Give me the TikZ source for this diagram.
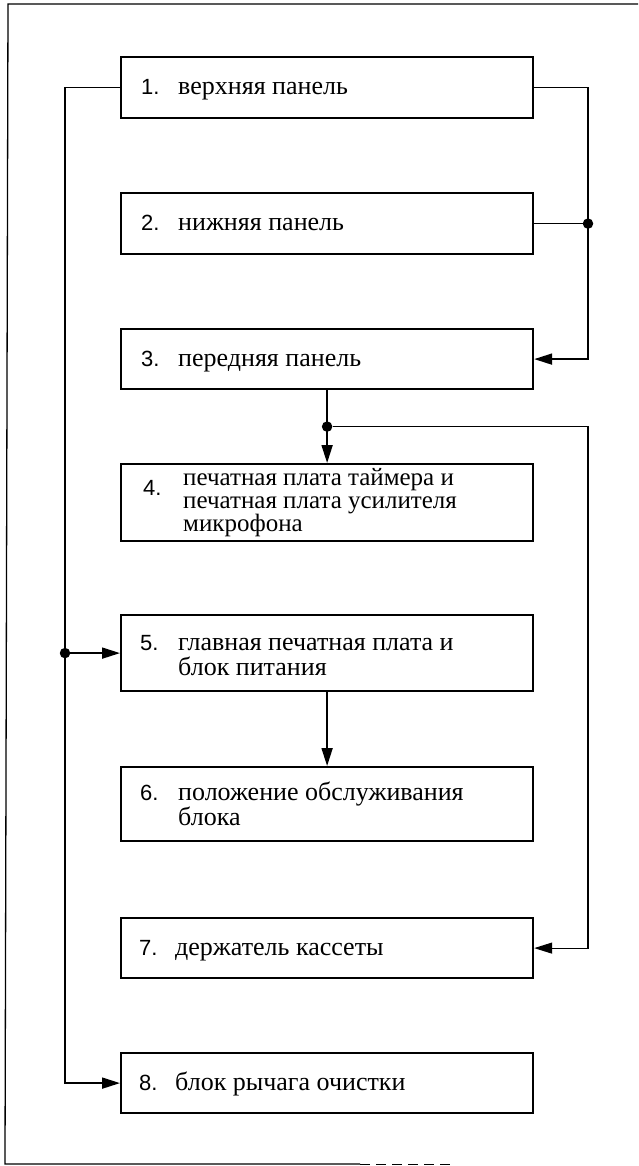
\documentclass[tikz,border=0pt]{standalone}
\usepackage{fontspec}
\newfontfamily\txtfont{Liberation Serif}
\newfontfamily\numfont{Liberation Sans}
\usetikzlibrary{arrows.meta,calc}
\tikzset{
  blk/.style={draw, line width=2.2pt, minimum width=412pt, inner sep=0pt, anchor=north west},
  num/.style={font=\numfont\fontsize{22}{24}\selectfont, anchor=base west, inner sep=0pt},
  txt/.style={font=\txtfont\fontsize{26}{28}\selectfont, anchor=base west, inner sep=0pt},
  txtsm/.style={font=\txtfont\fontsize{25}{27}\selectfont, anchor=base west, inner sep=0pt},
  conn/.style={line width=1.8pt},
  thinconn/.style={line width=1.2pt},
  arr/.style={-{Triangle[length=18pt,width=11pt]}},
  dot/.style={circle, fill, inner sep=0pt, minimum size=10.5pt},
  frame/.style={line width=1.3pt}
}
\begin{document}
\begin{tikzpicture}[x=1pt,y=-1pt]
\useasboundingbox (0,0) rectangle (638,1166);
% frame
\coordinate (f1) at (638,4);
\coordinate (f2) at (8,4);
\coordinate (f3) at (5,1164);
\coordinate (f4) at (360,1164);
\coordinate (f5) at (450,1164);
\draw[frame] (f1) -- (f2) -- (f3) -- (f4);
\draw[line width=0.8pt, dash pattern=on 10pt off 6pt] (f4) -- (f5);
% boxes
\node[blk, minimum height=61pt] (b1) at (120,56) {};
\node[blk, minimum height=61pt] (b2) at (120,192) {};
\node[blk, minimum height=60pt] (b3) at (120,328) {};
\node[blk, minimum height=77pt] (b4) at (120,463) {};
\node[blk, minimum height=76pt] (b5) at (120,614) {};
\node[blk, minimum height=74pt] (b6) at (120,766) {};
\node[blk, minimum height=60pt] (b7) at (120,917) {};
\node[blk, minimum height=60pt] (b8) at (120,1052) {};
% texts
\node[num] (n1) at (141,95) {1.};
\node[txt] (t1) at (178,95) {верхняя панель};
\node[num] (n2) at (141,231) {2.};
\node[txt] (t2) at (178,231) {нижняя панель};
\node[num] (n3) at (141,366) {3.};
\node[txt] (t3) at (178,366) {передняя панель};
\node[num] (n4) at (143,495) {4.};
\node[txtsm] (t4a) at (183,485) {печатная плата таймера и};
\node[txtsm] (t4b) at (183,508) {печатная плата усилителя};
\node[txtsm] (t4c) at (183,531) {микрофона};
\node[num] (n5) at (140,650) {5.};
\node[txt] (t5a) at (178,650) {главная печатная плата и};
\node[txt] (t5b) at (178,675) {блок питания};
\node[num] (n6) at (140,800) {6.};
\node[txt] (t6a) at (178,800) {положение обслуживания};
\node[txt] (t6b) at (178,825) {блока};
\node[num] (n7) at (139,955) {7.};
\node[txt] (t7) at (175,955) {держатель кассеты};
\node[num] (n8) at (139,1090) {8.};
\node[txt] (t8) at (175,1090) {блок рычага очистки};
% rails
\coordinate (lx) at (65,0);
\coordinate (rx) at (588,0);
% left rail
\draw[conn, arr] (b1.west) -- (b1.west -| lx) |- (b8.west);
\node[dot] (d5) at (b5.west -| lx) {};
\draw[conn, arr] (d5) -- (b5.west);
% right rail
\draw[conn, arr] (b1.east) -- (b1.east -| rx) |- (b3.east);
\node[dot] (d2) at (b2.east -| rx) {};
\draw[conn] (b2.east) -- (d2);
% centre
\node[dot] (d4) at ($(b3.south)!0.5!(b4.north)$) {};
\draw[conn, arr] (b3.south) -- (b4.north);
\draw[thinconn, arr] (d4) -- (d4 -| rx) |- (b7.east);
\draw[conn, arr] (b5.south) -- (b6.north);
\end{tikzpicture}
\end{document}
